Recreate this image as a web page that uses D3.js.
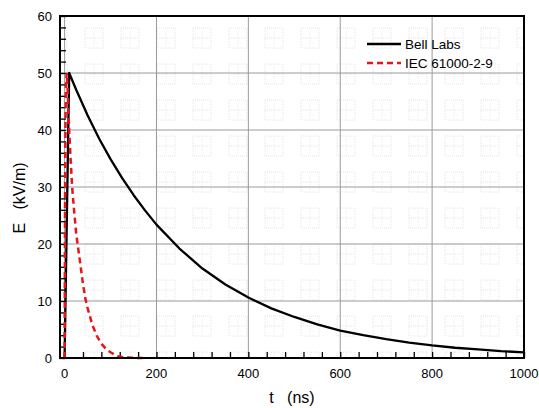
<!DOCTYPE html>
<html><head><meta charset="utf-8">
<script src="https://cdn.jsdelivr.net/npm/d3@7"></script>
<style>body{margin:0;background:#fff}svg{display:block}text{font-family:"Liberation Sans",Arial,sans-serif}</style>
</head><body><svg id="c" width="539" height="408"></svg>
<script>
// Bell Labs waveform (t in ns, E in kV/m)
const bellT = [0,10,25,50,75,100,125,150,175,200,250,300,350,400,450,500,550,600,650,700,750,800,850,900,950,1000];
const bellE = [0,50,47.1,42.6,38.5,34.9,31.6,28.6,25.9,23.4,19.2,15.7,12.9,10.6,8.7,7.2,5.9,4.8,4.0,3.3,2.7,2.2,1.8,1.5,1.2,1.0];
// IEC 61000-2-9 waveform
const iecT = [0,1,2,3,4,5,7,10,13,16.5,20,25,30,35,40,45,50,60,70,80,90,100,115,130,150,170];
const iecE = [0,28,42,47.5,49.5,50,46.5,40,35,30,26.5,22,19,16,13,10.5,8.8,5.9,3.9,2.5,1.6,1.0,0.3,0.1,0.03,0];
const xTicks = [0,200,400,600,800,1000];
const yTicks = [0,10,20,30,40,50,60];
const legendNames = ["Bell Labs","IEC 61000-2-9"];

const svg = d3.select("#c");
const L=60,R=524,T=16,B=358;
const x = d3.scaleLinear().domain([-10,1000]).range([L,R]);
const y = d3.scaleLinear().domain([0,60]).range([B,T]);

// faint watermark pattern
const defs = svg.append("defs");
const pat = defs.append("pattern").attr("id","wm").attr("patternUnits","userSpaceOnUse")
  .attr("width",36).attr("height",36).attr("x",L+22).attr("y",T+8);
pat.append("rect").attr("x",3).attr("y",4).attr("width",18).attr("height",20)
  .attr("fill","none").attr("stroke","#e4e4e4").attr("stroke-width",1).attr("stroke-dasharray","1,1");
pat.append("line").attr("x1",3).attr("x2",21).attr("y1",14).attr("y2",14)
  .attr("stroke","#e4e4e4").attr("stroke-dasharray","1,1");
pat.append("line").attr("x1",12).attr("x2",12).attr("y1",4).attr("y2",24)
  .attr("stroke","#ececec").attr("stroke-dasharray","1,1");
svg.append("rect").attr("x",L).attr("y",T).attr("width",R-L).attr("height",B-T).attr("fill","url(#wm)");

// grid
const g = svg.append("g");
g.selectAll(".gx").data(xTicks).join("line")
  .attr("x1",d=>x(d)).attr("x2",d=>x(d)).attr("y1",T).attr("y2",B)
  .attr("stroke","#9a9a9a").attr("stroke-width",1);
g.selectAll(".gy").data(yTicks).join("line")
  .attr("x1",L).attr("x2",R).attr("y1",d=>y(d)).attr("y2",d=>y(d))
  .attr("stroke","#9a9a9a").attr("stroke-width",1);

// axes (inward ticks)
const xAxis = d3.axisBottom(x).tickValues(d3.range(0,1001,40)).tickSize(-6).tickFormat("");
svg.append("g").attr("transform",`translate(0,${B})`).call(xAxis)
  .call(a=>a.select(".domain").remove())
  .call(a=>a.selectAll("line").attr("stroke","#000").attr("stroke-width",1.3));
const yAxis = d3.axisLeft(y).tickValues(d3.range(0,61,2)).tickSize(-6).tickFormat("");
svg.append("g").attr("transform",`translate(${L},0)`).call(yAxis)
  .call(a=>a.select(".domain").remove())
  .call(a=>a.selectAll("line").attr("stroke","#000").attr("stroke-width",1.3));

// tick labels
svg.selectAll(".xl").data(xTicks).join("text")
  .attr("x",d=>x(d)).attr("y",B+20).attr("text-anchor","middle")
  .attr("font-size",13).text(d=>d);
svg.selectAll(".yl").data(yTicks).join("text")
  .attr("x",L-8).attr("y",d=>y(d)+5).attr("text-anchor","end")
  .attr("font-size",13).text(d=>d);

// curves
const line = d3.line().x(d=>x(d[0])).y(d=>y(d[1])).curve(d3.curveLinear);
svg.append("path").datum(bellT.map((t,i)=>[t,bellE[i]])).attr("d",line)
  .attr("fill","none").attr("stroke","#000").attr("stroke-width",2.3).attr("stroke-linejoin","round");
svg.append("path").datum(iecT.map((t,i)=>[t,iecE[i]])).attr("d",line)
  .attr("fill","none").attr("stroke","#e8141b").attr("stroke-width",2.5).attr("stroke-dasharray","6,4");

// frame
svg.append("rect").attr("x",L).attr("y",T).attr("width",R-L).attr("height",B-T)
  .attr("fill","none").attr("stroke","#000").attr("stroke-width",2);

// axis titles
svg.append("text").attr("x",292).attr("y",403).attr("text-anchor","middle").attr("font-size",16)
  .attr("xml:space","preserve").text("t   (ns)");
svg.append("text").attr("transform","translate(25,198) rotate(-90)").attr("text-anchor","middle")
  .attr("font-size",16).attr("xml:space","preserve").text("E   (kV/m)");

// legend
const lg = svg.append("g");
const styles=[{c:"#000",d:null},{c:"#e8141b",d:"6,4"}];
legendNames.forEach((n,i)=>{
  const yy = 44 + i*19;
  lg.append("line").attr("x1",367).attr("x2",401).attr("y1",yy).attr("y2",yy)
    .attr("stroke",styles[i].c).attr("stroke-width",2.3).attr("stroke-dasharray",styles[i].d);
  lg.append("text").attr("x",405).attr("y",yy+5).attr("font-size",13.5).text(n);
});
</script></body></html>
